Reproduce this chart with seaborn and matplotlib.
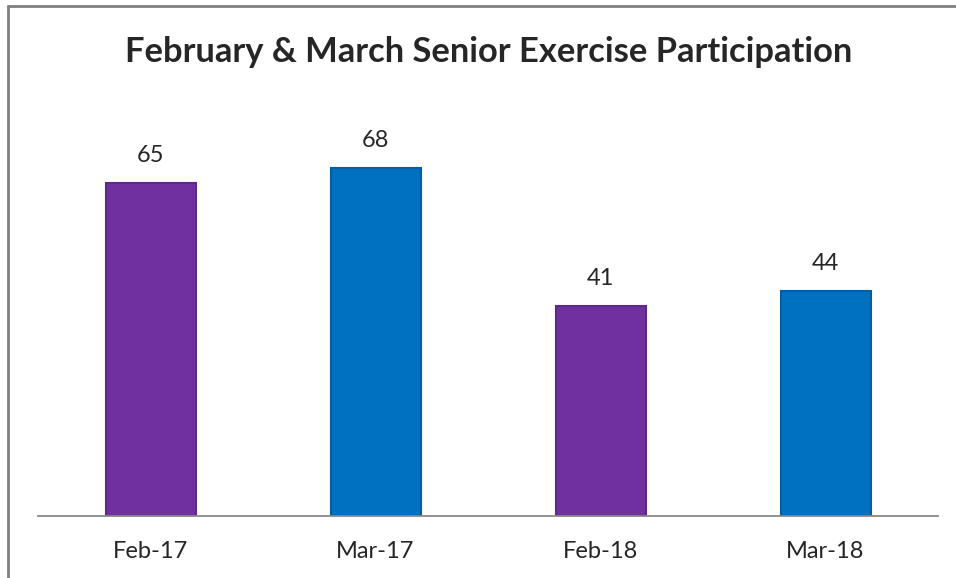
import matplotlib
matplotlib.use("Agg")
import matplotlib.pyplot as plt
import seaborn as sns
import pandas as pd
from matplotlib.lines import Line2D

categories = ["Feb-17", "Mar-17", "Feb-18", "Mar-18"]
values = [65, 68, 41, 44]
colors = ["#7030A0", "#0070C0", "#7030A0", "#0070C0"]
edge_colors = ["#5E2788", "#005EA6", "#5E2788", "#005EA6"]
title = "February & March Senior Exercise Participation"

sns.set_theme(style="white")
plt.rcParams["font.family"] = ["Lato", "DejaVu Sans"]

df = pd.DataFrame({"cat": categories, "val": values})

fig = plt.figure(figsize=(9.56, 5.78), dpi=100)
ax = fig.add_axes([38 / 956, 1 - 516 / 578, 900 / 956, 410 / 578])

sns.barplot(data=df, x="cat", y="val", hue="cat", palette=colors, legend=False,
            width=0.4, ax=ax, saturation=1)
for patch, ec in zip(ax.patches, edge_colors):
    patch.set_edgecolor(ec)
    patch.set_linewidth(1.5)

ax.set_xlim(-0.5, 3.5)
ax.set_ylim(0, 80)
ax.set_xlabel("")
ax.set_ylabel("")
ax.set_yticks([])
for s in ["top", "right", "left"]:
    ax.spines[s].set_visible(False)
ax.spines["bottom"].set_color("#898989")
ax.spines["bottom"].set_linewidth(1.3)
ax.tick_params(axis="x", length=0, pad=18, labelsize=17, labelcolor="#262626")

for i, v in enumerate(values):
    ax.text(i, v + 3.3, str(v), ha="center", va="bottom", fontsize=17, color="#262626")

fig.text(489 / 956, 1 - 52 / 578, title, ha="center", va="center",
         fontsize=24.8, fontweight="bold", color="#262626")

fig.add_artist(Line2D([8 / 956, 8 / 956], [0, 1 - 6 / 578], transform=fig.transFigure,
                      color="#808080", linewidth=2))
fig.add_artist(Line2D([8 / 956, 1], [1 - 6 / 578, 1 - 6 / 578], transform=fig.transFigure,
                      color="#808080", linewidth=2))

fig.savefig("out.png", dpi=100)
